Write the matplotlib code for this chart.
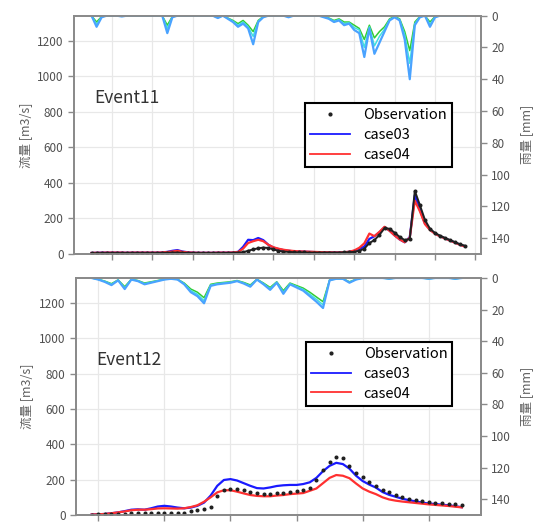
import numpy as np
import matplotlib
matplotlib.use('Agg')
import matplotlib.pyplot as plt
from matplotlib.lines import Line2D

plt.rcParams['font.family'] = ['Noto Sans CJK JP', 'DejaVu Sans']

# ---- Event11 (time steps, 8 steps per tick) ----
steps11 = np.arange(-4, 71)
obs11 = [4, 4, 5, 5, 5, 5, 5, 5, 5, 5, 5, 5,
         5, 5, 6, 7,
         8, 8, 7, 6,
         5, 5, 5, 5, 5, 5, 5, 6, 6, 8,
         10, 18, 26, 32, 36, 34, 26, 18, 14, 12,
         10, 9, 9, 8, 8, 8, 8, 8, 8, 8,
         9, 10, 12, 18, 30, 62, 78, 108, 145, 142,
         120, 96, 78, 85, 355, 275, 192, 142, 118, 103,
         90, 78, 66, 54, 46]
case03_11 = [6, 7, 8, 8, 8, 8, 8, 7, 8, 8, 8, 8,
             8, 8, 9, 12,
             18, 22, 14, 10,
             8, 7, 7, 7, 7, 8, 8, 8, 9, 12,
             40, 80, 78, 90, 78, 52, 36, 28, 22, 18,
             15, 14, 13, 12, 11, 10, 10, 9, 9, 9,
             10, 12, 18, 28, 42, 85, 100, 122, 150, 132,
             105, 82, 66, 95, 330, 250, 172, 138, 115, 100,
             88, 76, 64, 52, 42]
case04_11 = [6, 7, 7, 8, 8, 8, 8, 7, 8, 8, 8, 8,
             8, 8, 9, 11,
             14, 18, 12, 9,
             8, 7, 7, 7, 7, 8, 8, 8, 9, 11,
             30, 62, 72, 80, 72, 52, 38, 30, 24, 20,
             17, 15, 14, 13, 12, 11, 10, 10, 9, 9,
             10, 13, 20, 35, 60, 115, 100, 125, 153, 130,
             104, 82, 66, 92, 300, 240, 168, 135, 114, 99,
             87, 75, 63, 51, 41]
rainA_11 = [0, 7, 1, 0, 0, 0, 0.5, 0, 0, 0,
            0, 0, 0, 0, 0, 11, 1, 0, 0, 0,
            0, 0, 0, 0, 0, 1.5, 0, 2, 4, 7,
            5, 8, 18, 4, 1, 0, 0, 0, 0, 1,
            0, 0, 0, 0, 0, 0, 1, 2, 4, 3,
            6, 5, 9, 11, 26, 8, 24, 17, 10, 3,
            1, 3, 15, 40, 6, 1, 0, 7, 1, 0,
            0, 0, 0, 0, 0]
rainB_11 = [0, 5.5, 0.8, 0, 0, 0, 0.4, 0, 0, 0,
            0, 0, 0, 0, 0, 8, 0.8, 0, 0, 0,
            0, 0, 0, 0, 0, 1.2, 0, 1.8, 3.5, 6,
            4, 7, 13, 3.5, 0.8, 0, 0, 0, 0, 0.8,
            0, 0, 0, 0, 0, 0, 0.8, 1.8, 3.5, 2.5,
            5, 4.5, 7.5, 9, 20, 7, 19, 13, 8.5, 2.5,
            0.8, 2.5, 12, 30, 5, 0.8, 0, 5.5, 0.8, 0,
            0, 0, 0, 0, 0]
rainC_11 = [0, 4, 0.5, 0, 0, 0, 0.3, 0, 0, 0,
            0, 0, 0, 0, 0, 6, 0.5, 0, 0, 0,
            0, 0, 0, 0, 0, 1, 0, 1.5, 3, 5,
            3, 6, 10, 3, 0.5, 0, 0, 0, 0, 0.5,
            0, 0, 0, 0, 0, 0, 0.5, 1.5, 3, 2,
            4, 4, 6, 8, 15, 6, 14, 10, 7, 2,
            0.5, 2, 10, 22, 4, 0.5, 0, 4, 0.5, 0,
            0, 0, 0, 0, 0]

# ---- Event12 (time steps, 10 steps per tick) ----
steps12 = np.arange(-1, 56)
obs12 = [2, 3, 4, 5, 7, 8, 9, 10, 11, 12,
         13, 13, 13, 13, 14, 20, 28, 35, 45, 110,
         140, 146, 148, 140, 130, 122, 118, 120, 122, 124,
         130, 138, 141, 150, 200, 255, 300, 330, 325, 275,
         240, 215, 185, 165, 140, 128, 115, 103, 93, 86,
         80, 74, 70, 66, 63, 60, 56]
case03_12 = [3, 4, 6, 10, 15, 22, 30, 32, 30, 38,
             48, 52, 48, 42, 38, 42, 52, 70, 110, 165,
             198, 203, 195, 180, 165, 152, 150, 156, 164, 168,
             170, 170, 175, 185, 210, 248, 278, 295, 288, 262,
             222, 192, 172, 155, 130, 114, 103, 92, 84, 77,
             70, 65, 62, 58, 55, 50, 44]
case04_12 = [3, 4, 6, 10, 15, 20, 27, 30, 30, 33,
             37, 38, 37, 36, 38, 45, 55, 75, 100, 128,
             140, 140, 132, 122, 113, 108, 106, 106, 110, 113,
             118, 121, 124, 137, 150, 180, 210, 226, 222, 208,
             178, 150, 132, 118, 100, 88, 81, 76, 72, 68,
             64, 60, 57, 54, 51, 47, 43]
rainA_12 = [0, 1, 2.5, 4.5, 1.5, 7, 1, 2, 4, 3,
            2, 1, 0.5, 1, 4, 9, 11.5, 16, 5, 4,
            3.5, 3, 2, 3.5, 5.5, 1, 4, 7.5, 3, 10,
            4, 6, 8, 11.5, 15, 19, 1.5, 0.5, 0.5, 3,
            1, 0, 0, 0, 0, 0.5, 0, 0, 0, 0,
            0, 0.5, 0, 0, 0, 0.5, 0]
rainB_12 = [0, 0.9, 2.2, 4, 1.4, 6.3, 0.9, 1.8, 3.6, 2.7,
            1.8, 0.9, 0.5, 0.9, 3.6, 8, 10.3, 14.4, 4.5, 3.6,
            3.2, 2.7, 1.8, 3.2, 5, 0.9, 3.6, 6.8, 2.7, 9,
            3.6, 5.4, 7.2, 10.3, 13.5, 17, 1.4, 0.5, 0.5, 2.7,
            0.9, 0, 0, 0, 0, 0.5, 0, 0, 0, 0,
            0, 0.5, 0, 0, 0, 0.5, 0]
rainC_12 = [0, 0.8, 2, 3.6, 1.2, 5.5, 0.8, 1.6, 3.2, 2.4,
            1.6, 0.8, 0.4, 0.8, 3.2, 7, 9, 12.5, 4, 3.2,
            2.8, 2.4, 1.6, 2.8, 4.4, 0.8, 3.2, 6, 2.4, 8,
            3.2, 4.8, 6.4, 9, 12, 15, 1.2, 0.4, 0.4, 2.4,
            0.8, 0, 0, 0, 0, 0.4, 0, 0, 0, 0,
            0, 0.4, 0, 0, 0, 0.4, 0]

gray = '#8a8a8a'
fig = plt.figure(figsize=(5.39, 5.26), dpi=100)


def styleAxis(ax):
   for sp in ax.spines.values():
      sp.set_color(gray)
      sp.set_linewidth(1.3)
   ax.tick_params(direction='out', color=gray, labelcolor='#505050', labelsize=8.5, length=4, width=1)


def drawPanel(rect, steps, obs, c3, c4, rains, title, tickStep, xlim, legTop, obsLine):
   ax = fig.add_axes(rect)
   ax.plot(steps, c3, color='#1a1aff', lw=1.6, zorder=3)
   ax.plot(steps, c4, color='#ff3030', lw=1.6, zorder=4)
   if obsLine:
      # dense hourly record looks like a solid dark trace
      ax.plot(steps, obs, color='#202020', lw=1.4, zorder=4.5)
   ax.plot(steps, obs, ls='none', marker='.', color='#202020', ms=3.8, zorder=5)
   ax.set_xlim(*xlim)
   ax.set_ylim(0, 1340)
   ax.set_yticks(np.arange(0, 1201, 200))
   ax.set_xticks(np.arange(0, xlim[1], tickStep))
   ax.set_xticklabels([])
   ax.grid(True, color='#e8e8e8', lw=0.9)
   ax.set_axisbelow(True)
   ax.set_ylabel('流量 [m3/s]', fontsize=9, color='#606060', labelpad=4)
   styleAxis(ax)
   ax.text(0.049, 0.634, title, transform=ax.transAxes, fontsize=12.5, color='#333333', va='baseline')

   ax2 = ax.twinx()
   ax2.plot(steps, rains[2], color='#33cc33', lw=1.1)
   ax2.plot(steps, rains[1], color='#40e0e0', lw=1.1)
   ax2.plot(steps, rains[0], color='#4aa3ff', lw=1.6)
   ax2.set_ylim(150, 0)
   ax2.set_yticks(np.arange(0, 141, 20))
   ax2.set_ylabel('雨量 [mm]', fontsize=9, color='#606060', labelpad=6)
   styleAxis(ax2)

   handles = [Line2D([], [], ls='none', marker='.', color='#202020', ms=4),
              Line2D([], [], color='#1a1aff', lw=1.3),
              Line2D([], [], color='#ff3030', lw=1.3)]
   leg = ax2.legend(handles, ['Observation', 'case03', 'case04'], loc='upper left',
                    bbox_to_anchor=(0.568, legTop), fontsize=10.5, frameon=True, fancybox=False,
                    edgecolor='black', framealpha=1, borderpad=0.35, borderaxespad=0,
                    handlelength=2.7, handletextpad=0.9, labelspacing=0.4, numpoints=1)
   leg.get_frame().set_linewidth(1.5)
   return ax, ax2


drawPanel([0.1373, 0.5171, 0.7551, 0.4531], steps11, obs11, case03_11, case04_11,
          (rainA_11, rainB_11, rainC_11), 'Event11', 8, (-7.47, 73.1), 0.632, True)
drawPanel([0.1410, 0.0209, 0.7514, 0.4506], steps12, obs12, case03_12, case04_12,
          (rainA_12, rainB_12, rainC_12), 'Event12', 10, (-3.37, 57.9), 0.731, False)

fig.savefig('out.png', dpi=100)
plt.close(fig)
